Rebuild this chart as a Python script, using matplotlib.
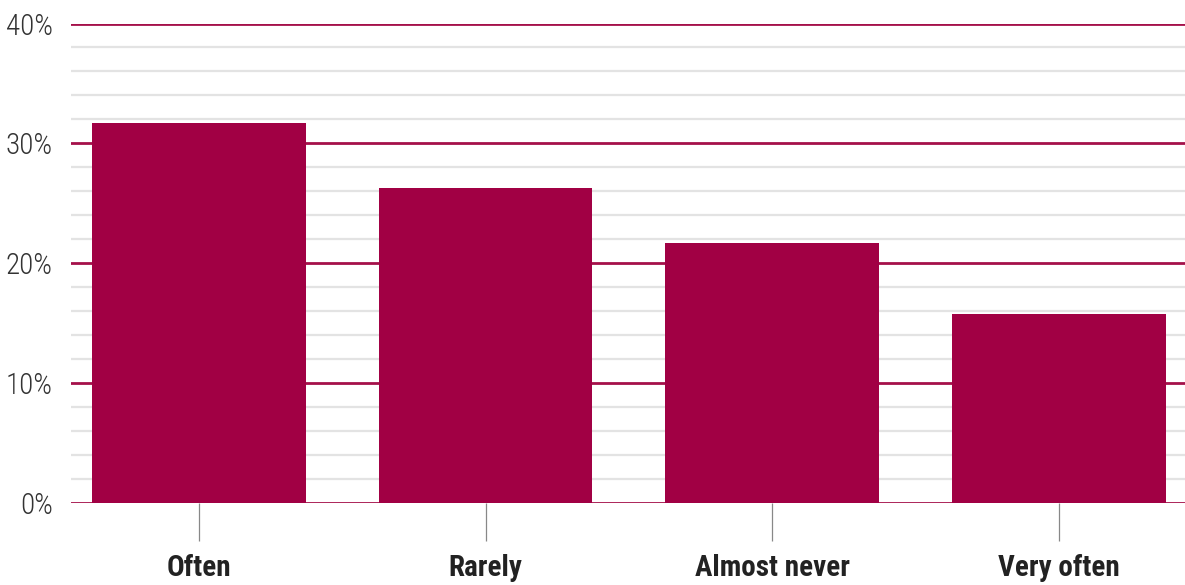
import matplotlib
matplotlib.use("Agg")
import matplotlib.pyplot as plt
from matplotlib.ticker import MultipleLocator, FuncFormatter

categories = ["Often", "Rarely", "Almost never", "Very often"]
shares = [31.7, 26.3, 21.7, 15.8]

bar_color = "#a10044"
grid_color = "#a5104a"
fonts = ["Roboto Condensed", "Roboto", "DejaVu Sans"]

fig = plt.figure(figsize=(11.85, 5.85), dpi=100)
ax = fig.add_axes([71 / 1185, 0.1402, 1 - 71 / 1185, 0.8196])

x = range(len(categories))
ax.bar(x, shares, width=0.746, color=bar_color, zorder=3)

ax.set_ylim(0, 40)
ax.set_xlim(-0.446, 3.44)
ax.yaxis.set_major_locator(MultipleLocator(10))
ax.yaxis.set_minor_locator(MultipleLocator(2))
ax.yaxis.set_major_formatter(FuncFormatter(lambda v, _: f"{v:.0f}%"))
ax.grid(axis="y", which="minor", color="#e3e3e3", linewidth=1.6, zorder=1)
ax.grid(axis="y", which="major", color=grid_color, linewidth=2.0, zorder=2)
ax.set_axisbelow(True)

for s in ax.spines.values():
    s.set_visible(False)

ax.set_xticks(list(x))
ax.set_xticklabels(categories, fontsize=21, fontweight="bold", family=fonts, color="#222222")
ax.tick_params(axis="x", length=27, width=0.9, color="#888888", pad=10)
ax.tick_params(axis="y", which="both", length=0, pad=13, labelsize=21, labelcolor="#333333")
for lbl in ax.get_yticklabels():
    lbl.set_family(fonts)
    lbl.set_fontweight("light")

fig.savefig("out.png", dpi=100)
